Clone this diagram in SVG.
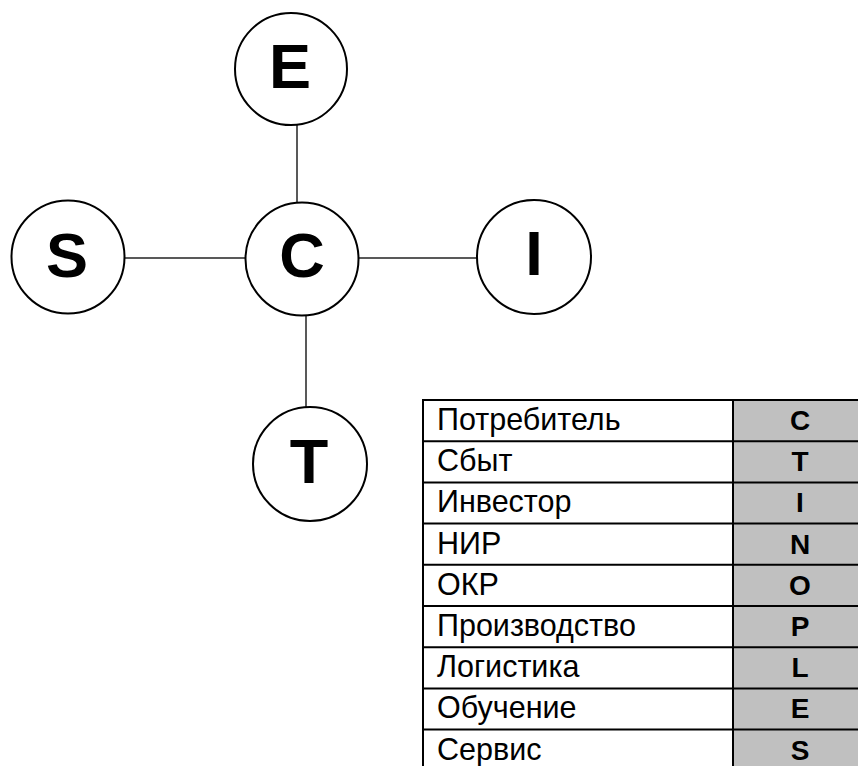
<svg xmlns="http://www.w3.org/2000/svg" width="858" height="766" viewBox="0 0 858 766">
<style>
.node circle{fill:#fff;stroke:#000;stroke-width:2}
.node text{font-family:"Liberation Sans",Arial,sans-serif;font-weight:bold;font-size:63px;text-anchor:middle;fill:#000}
.conn line{stroke:#222;stroke-width:1.5}
.lbl{font-family:"Liberation Sans",Arial,sans-serif;font-size:30.5px;fill:#000}
.code{font-family:"Liberation Sans",Arial,sans-serif;font-size:28px;font-weight:bold;text-anchor:middle;fill:#000}
.grid{stroke:#000;stroke-width:2;fill:none}
</style>
<rect width="858" height="766" fill="#fff"/>
<g id="connectors" class="conn">
<line x1="297" y1="125" x2="297" y2="203"/>
<line x1="125" y1="258" x2="245" y2="258"/>
<line x1="358" y1="258" x2="477" y2="258"/>
<line x1="306" y1="315" x2="306" y2="407"/>
</g>
<g id="node-E" class="node"><circle cx="291" cy="69" r="56"/><text x="290" y="88">E</text></g>
<g id="node-S" class="node"><circle cx="68" cy="257" r="56.5"/><text x="67" y="277">S</text></g>
<g id="node-C" class="node"><circle cx="302" cy="259" r="56.5"/><text x="302" y="277">C</text></g>
<g id="node-I" class="node"><circle cx="534" cy="257" r="57"/><text x="534" y="275">I</text></g>
<g id="node-T" class="node"><circle cx="310" cy="464" r="57"/><text x="309" y="483">T</text></g>
<g id="table">
<rect x="733" y="400" width="140" height="380" fill="#c0c0c0"/>
<rect x="423" y="400" width="450" height="380" class="grid"/>
<line x1="733" y1="400" x2="733" y2="780" class="grid"/>
<g class="grid">
<line x1="423" y1="441.2" x2="873" y2="441.2"/>
<line x1="423" y1="482.4" x2="873" y2="482.4"/>
<line x1="423" y1="523.6" x2="873" y2="523.6"/>
<line x1="423" y1="564.8" x2="873" y2="564.8"/>
<line x1="423" y1="606" x2="873" y2="606"/>
<line x1="423" y1="647.2" x2="873" y2="647.2"/>
<line x1="423" y1="688.4" x2="873" y2="688.4"/>
<line x1="423" y1="729.6" x2="873" y2="729.6"/>
</g>
<text class="lbl" x="437" y="430">Потребитель</text>
<text class="lbl" x="437" y="471.2">Сбыт</text>
<text class="lbl" x="437" y="512.4">Инвестор</text>
<text class="lbl" x="437" y="553.6">НИР</text>
<text class="lbl" x="437" y="594.8">ОКР</text>
<text class="lbl" x="437" y="636">Производство</text>
<text class="lbl" x="437" y="677.2">Логистика</text>
<text class="lbl" x="437" y="718.4">Обучение</text>
<text class="lbl" x="437" y="759.6">Сервис</text>
<text class="code" x="800" y="430">C</text>
<text class="code" x="800" y="471.2">T</text>
<text class="code" x="800" y="512.4">I</text>
<text class="code" x="800" y="553.6">N</text>
<text class="code" x="800" y="594.8">O</text>
<text class="code" x="800" y="636">P</text>
<text class="code" x="800" y="677.2">L</text>
<text class="code" x="800" y="718.4">E</text>
<text class="code" x="800" y="759.6">S</text>
</g>
</svg>
